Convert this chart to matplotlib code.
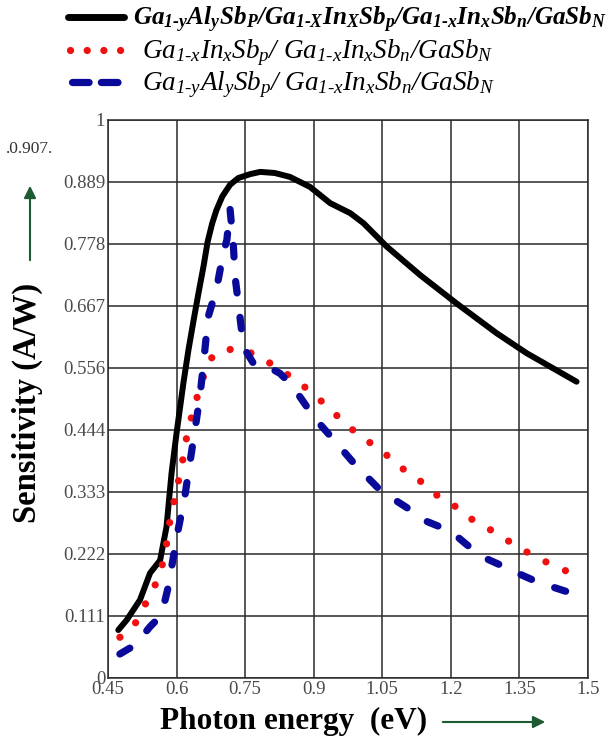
import matplotlib
matplotlib.use('Agg')
import matplotlib.pyplot as plt
from matplotlib.lines import Line2D
from matplotlib.patches import FancyArrowPatch

# photon energy (eV) vs sensitivity (A/W) for the three structures
e_black = [0.4725, 0.491, 0.52, 0.542, 0.564, 0.578, 0.589, 0.60, 0.615, 0.626, 0.637, 0.648,
           0.659, 0.668, 0.678, 0.687, 0.70, 0.717, 0.735, 0.761, 0.783, 0.815, 0.848, 0.892,
           0.936, 0.98, 1.009, 1.06, 1.133, 1.213, 1.3, 1.366, 1.475]
s_black = [0.086, 0.104, 0.14, 0.188, 0.211, 0.271, 0.367, 0.439, 0.529, 0.588, 0.64, 0.69,
           0.738, 0.782, 0.815, 0.838, 0.863, 0.884, 0.896, 0.903, 0.907, 0.905, 0.898, 0.88,
           0.851, 0.833, 0.815, 0.773, 0.722, 0.671, 0.618, 0.582, 0.531]

e_red = [0.476, 0.513, 0.532, 0.551, 0.568, 0.578, 0.586, 0.598, 0.611, 0.624, 0.64, 0.655,
         0.669, 0.69, 0.706, 0.745, 0.783, 0.821, 0.86, 0.899, 0.936, 0.972, 1.012, 1.051,
         1.085, 1.124, 1.162, 1.2, 1.238, 1.276, 1.315, 1.353, 1.392, 1.43, 1.468]
s_red = [0.073, 0.101, 0.133, 0.162, 0.2, 0.24, 0.285, 0.33, 0.379, 0.441, 0.49, 0.53,
         0.567, 0.585, 0.589, 0.588, 0.576, 0.555, 0.535, 0.509, 0.482, 0.453, 0.428, 0.406,
         0.38, 0.36, 0.331, 0.314, 0.288, 0.271, 0.251, 0.232, 0.214, 0.2, 0.186]

e_blue = [0.476, 0.509, 0.542, 0.56, 0.575, 0.582, 0.593, 0.604, 0.618, 0.629, 0.64, 0.651,
          0.659, 0.669, 0.68, 0.691, 0.702, 0.71, 0.717, 0.724, 0.728, 0.735, 0.742, 0.75,
          0.768, 0.786, 0.826, 0.852, 0.885, 0.906, 0.95, 0.994, 1.016, 1.045, 1.074, 1.11,
          1.14, 1.176, 1.21, 1.245, 1.28, 1.315, 1.351, 1.384, 1.419, 1.468]
s_blue = [0.043, 0.059, 0.092, 0.107, 0.14, 0.164, 0.217, 0.268, 0.325, 0.385, 0.444, 0.504,
          0.564, 0.647, 0.677, 0.713, 0.761, 0.785, 0.84, 0.779, 0.719, 0.672, 0.624, 0.588,
          0.564, 0.564, 0.546, 0.525, 0.486, 0.462, 0.421, 0.379, 0.361, 0.337, 0.321, 0.302,
          0.283, 0.271, 0.256, 0.232, 0.213, 0.2, 0.186, 0.174, 0.164, 0.151]

xticks = [0.45, 0.6, 0.75, 0.9, 1.05, 1.2, 1.35, 1.5]
xtick_labels = ['0.45', '0.6', '0.75', '0.9', '1.05', '1.2', '1.35', '1.5']
yticks = [k / 9 for k in range(10)]
ytick_labels = ['0', '0.111', '0.222', '0.333', '0.444', '0.556', '0.667', '0.778', '0.889', '1']

labels = [
    r'$\mathbf{Ga_{1‐y}Al_ySb_P/Ga_{1‐X}In_XSb_p/Ga_{1‐x}In_xSb_n/GaSb_N}$',
    r'$Ga_{1‐x}In_xSb_p/\ Ga_{1‐x}In_xSb_n/GaSb_N$',
    r'$Ga_{1‐y}Al_ySb_p/\ Ga_{1‐x}In_xSb_n/GaSb_N$',
]

plt.rcParams['font.family'] = 'Liberation Serif'
plt.rcParams['mathtext.fontset'] = 'custom'
plt.rcParams['mathtext.rm'] = 'Liberation Serif:italic'
plt.rcParams['mathtext.it'] = 'Liberation Serif:italic'
plt.rcParams['mathtext.bf'] = 'Liberation Serif:italic:bold'

W, H = 613, 740
fig = plt.figure(figsize=(W / 100, H / 100), dpi=100)
ax = fig.add_axes([108 / W, 1 - 678 / H, 480 / W, 558 / H])

gridc = '#2a2a2a'
ax.set_xlim(0.45, 1.5)
ax.set_ylim(0, 1)
ax.set_xticks(xticks)
ax.set_xticklabels(xtick_labels)
ax.set_yticks(yticks)
ax.set_yticklabels(ytick_labels)
ax.tick_params(length=0, labelsize=13.5, labelcolor='#4a4a4a', pad=2)
ax.grid(True, color=gridc, lw=1.1)
for sp in ax.spines.values():
    sp.set_color(gridc)
    sp.set_linewidth(1.1)

red_c = '#f01010'
blue_c = '#0a0a9a'
ax.plot(e_black, s_black, color='black', lw=4.3, solid_capstyle='round',
        solid_joinstyle='round', zorder=3)
ax.plot(e_red, s_red, color=red_c, lw=5.2, dashes=(0.01, 2.95),
        dash_capstyle='round', zorder=3)
ax.plot(e_blue, s_blue, color=blue_c, lw=5.2, dashes=(1.6, 3.4),
        dash_capstyle='round', zorder=3)

ax.set_xlabel('Photon energy  (eV)', fontsize=22.5, fontweight='bold')
ax.xaxis.set_label_coords(0.386, -0.052)
ax.set_ylabel('Sensitivity (A/W)', fontsize=23.5, fontweight='bold')
ax.yaxis.set_label_coords(-0.135, 0.493)

green = '#1e5a32'
fig.add_artist(FancyArrowPatch((440 / W, 1 - 722 / H), (548 / W, 1 - 722 / H),
               transform=fig.transFigure, arrowstyle='-|>', mutation_scale=18, color=green, lw=1.5))
fig.add_artist(FancyArrowPatch((30 / W, 1 - 263 / H), (30 / W, 1 - 183 / H),
               transform=fig.transFigure, arrowstyle='-|>', mutation_scale=18, color=green, lw=1.5))

fig.text(6 / W, 1 - 149 / H, '.0.907.', fontsize=12.5, color='#333333', va='center')

# legend drawn by hand above the axes
rows = [17, 50, 82]
samples = [([68, 124], dict(color='black', lw=5, solid_capstyle='round')),
           ([70, 121.5], dict(color=red_c, lw=5.2, dashes=(0.01, 2.3), dash_capstyle='round')),
           ([72, 118], dict(color=blue_c, lw=5.2, dashes=(2.3, 1.7), dash_capstyle='round'))]
text_x = [133, 142, 142]
sizes = [18.1, 19.5, 19.5]
for r, (xs, st), tx, lab, fs in zip(rows, samples, text_x, labels, sizes):
    y = 1 - r / H
    fig.add_artist(Line2D([xs[0] / W, xs[1] / W], [y, y], transform=fig.transFigure, **st))
    fig.text(tx / W, 1 - (r + 3) / H, lab, fontsize=fs, va='center', ha='left')

fig.savefig('out.png', dpi=100)
